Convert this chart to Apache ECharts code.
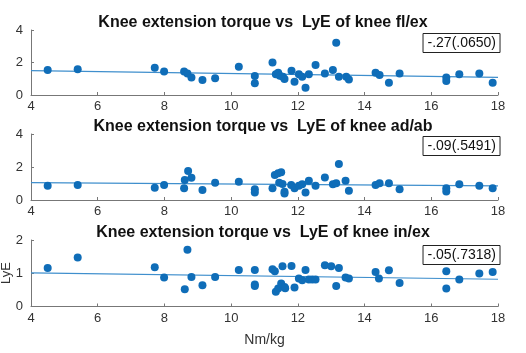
<!DOCTYPE html>
<html>
<head>
<meta charset="utf-8">
<script src="https://cdn.jsdelivr.net/npm/echarts@6/dist/echarts.min.js"></script>
<style>
  html, body { margin: 0; padding: 0; background: #fff; }
  #main { width: 526px; height: 353px; }
</style>
</head>
<body>
<div id="main"></div>
<script>
// 数据：每个面板 [torque(Nm/kg), LyE]
var titles = [
  'Knee extension torque vs  LyE of knee fl/ex',
  'Knee extension torque vs  LyE of knee ad/ab',
  'Knee extension torque vs  LyE of knee in/ex'
];
var corrLabels = ['-.27(.0650)', '-.09(.5491)', '-.05(.7318)'];

var flexPoints = [
  [4.5, 1.54], [5.4, 1.58], [7.71, 1.68], [7.99, 1.44], [8.59, 1.44], [8.69, 1.33],
  [8.81, 1.07], [9.14, 0.92], [9.52, 1.03], [10.23, 1.74], [10.71, 1.17], [10.71, 0.72],
  [11.24, 2.0], [11.34, 1.27], [11.41, 1.37], [11.46, 1.19], [11.55, 1.13], [11.6, 0.98],
  [11.81, 1.5], [11.9, 0.82], [12.03, 1.27], [12.13, 1.13], [12.23, 0.45], [12.33, 1.27],
  [12.53, 1.85], [12.81, 1.33], [13.05, 1.54], [13.15, 3.22], [13.23, 1.13], [13.45, 1.13],
  [13.53, 0.96], [14.33, 1.37], [14.45, 1.23], [14.73, 0.76], [15.05, 1.33], [16.45, 1.07],
  [16.45, 0.86], [16.84, 1.27], [17.44, 1.33], [17.84, 0.76]
];
var adPoints = [
  [4.5, 0.87], [5.4, 0.91], [7.71, 0.75], [7.99, 0.91], [8.59, 0.71], [8.61, 1.21],
  [8.71, 1.76], [8.81, 1.35], [9.14, 0.61], [9.52, 1.05], [10.23, 1.11], [10.71, 0.65],
  [10.71, 0.46], [11.24, 0.71], [11.31, 1.52], [11.41, 1.62], [11.5, 1.68], [11.44, 1.05],
  [11.54, 0.97], [11.6, 0.4], [11.6, 0.5], [11.8, 0.91], [11.9, 0.71], [12.03, 0.87],
  [12.13, 0.95], [12.23, 0.46], [12.33, 1.17], [12.53, 0.87], [12.81, 1.37], [13.05, 0.95],
  [13.15, 1.01], [13.23, 2.18], [13.43, 1.17], [13.53, 0.56], [14.33, 0.91], [14.45, 1.01],
  [14.73, 1.01], [15.05, 0.65], [16.45, 0.71], [16.45, 0.52], [16.84, 0.95], [17.44, 0.87],
  [17.84, 0.71]
];
var inPoints = [
  [4.5, 1.16], [5.4, 1.47], [7.71, 1.18], [7.99, 0.87], [8.61, 0.52], [8.69, 1.71],
  [8.81, 0.89], [9.14, 0.64], [9.52, 0.89], [10.23, 1.1], [10.71, 1.1], [10.71, 0.66],
  [10.71, 0.62], [11.24, 1.12], [11.31, 1.06], [11.34, 0.44], [11.41, 0.54], [11.5, 0.69],
  [11.54, 1.21], [11.6, 0.59], [11.62, 0.55], [11.81, 1.22], [11.9, 0.57], [12.03, 0.84],
  [12.13, 0.79], [12.23, 1.1], [12.33, 0.81], [12.43, 0.81], [12.53, 0.81], [12.81, 1.24],
  [13.0, 1.21], [13.15, 0.62], [13.23, 1.16], [13.43, 0.87], [13.53, 0.84], [14.33, 1.04],
  [14.43, 0.84], [14.73, 1.09], [15.05, 0.71], [16.45, 1.06], [16.45, 0.54], [16.84, 0.81],
  [17.44, 0.99], [17.84, 1.04]
];

// 回归线端点
var flexFit = [[4, 1.5], [18, 1.09]];
var adFit = [[4, 1.05], [18, 0.86]];
var inFit = [[4, 1.01], [18, 0.82]];

var yMaxes = [4, 4, 2];
var yIntervals = [2, 2, 1];
var xTicks = [4, 18, 2];

var allPoints = [flexPoints, adPoints, inPoints];
var allFits = [flexFit, adFit, inFit];

var font = 'Arial, "Liberation Sans", sans-serif';
var gridTops = [30, 134, 240];
var gridHeights = [65, 66, 66.5];
var boxTops = [33, 136, 245];

var grids = [], xAxes = [], yAxes = [], series = [], titleList = [];

for (var i = 0; i < 3; i++) {
  grids.push({ left: 31, right: 28, top: gridTops[i], height: gridHeights[i], outerBoundsMode: 'none', containLabel: false });
  xAxes.push({
    type: 'value', gridIndex: i, min: xTicks[0], max: xTicks[1], interval: xTicks[2],
    name: i === 2 ? 'Nm/kg' : '', nameLocation: 'middle', nameGap: 27,
    nameTextStyle: { fontFamily: font, fontSize: 14, color: '#333' },
    axisLine: { lineStyle: { color: '#777', width: 1 } },
    axisTick: { inside: true, length: 3, lineStyle: { color: '#777' } },
    axisLabel: { fontFamily: font, fontSize: 13, color: '#333', margin: 5 },
    splitLine: { show: false }
  });
  yAxes.push({
    type: 'value', gridIndex: i, min: 0, max: yMaxes[i], interval: yIntervals[i],
    axisLine: { show: true, lineStyle: { color: '#777', width: 1 } },
    axisTick: { show: true, inside: true, length: 3, lineStyle: { color: '#777' } },
    axisLabel: { fontFamily: font, fontSize: 13, color: '#333', margin: 8 },
    splitLine: { show: false }
  });
  series.push({
    type: 'scatter', xAxisIndex: i, yAxisIndex: i,
    data: allPoints[i], symbol: 'circle', symbolSize: 8,
    itemStyle: { color: '#0F6DB8', opacity: 1 }, z: 3
  });
  series.push({
    type: 'line', xAxisIndex: i, yAxisIndex: i,
    data: allFits[i], symbol: 'none',
    lineStyle: { color: '#3F8FCD', width: 1.2 }, z: 2
  });
  titleList.push({
    text: titles[i], left: 'center', top: gridTops[i] - 20,
    textStyle: { fontFamily: font, fontSize: 16, fontWeight: 'bold', color: '#111' }
  });
  titleList.push({
    text: corrLabels[i], right: 26, top: boxTops[i],
    borderColor: '#222', borderWidth: 1, padding: [3, 4, 3, 5], backgroundColor: '#fff',
    textStyle: { fontFamily: font, fontSize: 14, fontWeight: 'normal', color: '#111' }
  });
}

var myChart = echarts.init(document.getElementById('main'));
myChart.setOption({
  animation: false,
  title: titleList,
  grid: grids,
  xAxis: xAxes,
  yAxis: yAxes,
  series: series,
  graphic: [{
    type: 'text', x: 6, y: 273, rotation: Math.PI / 2,
    style: {
      text: 'LyE', fontFamily: font, fontSize: 13, fill: '#333',
      align: 'center', verticalAlign: 'middle'
    }
  }]
});
</script>
</body>
</html>
